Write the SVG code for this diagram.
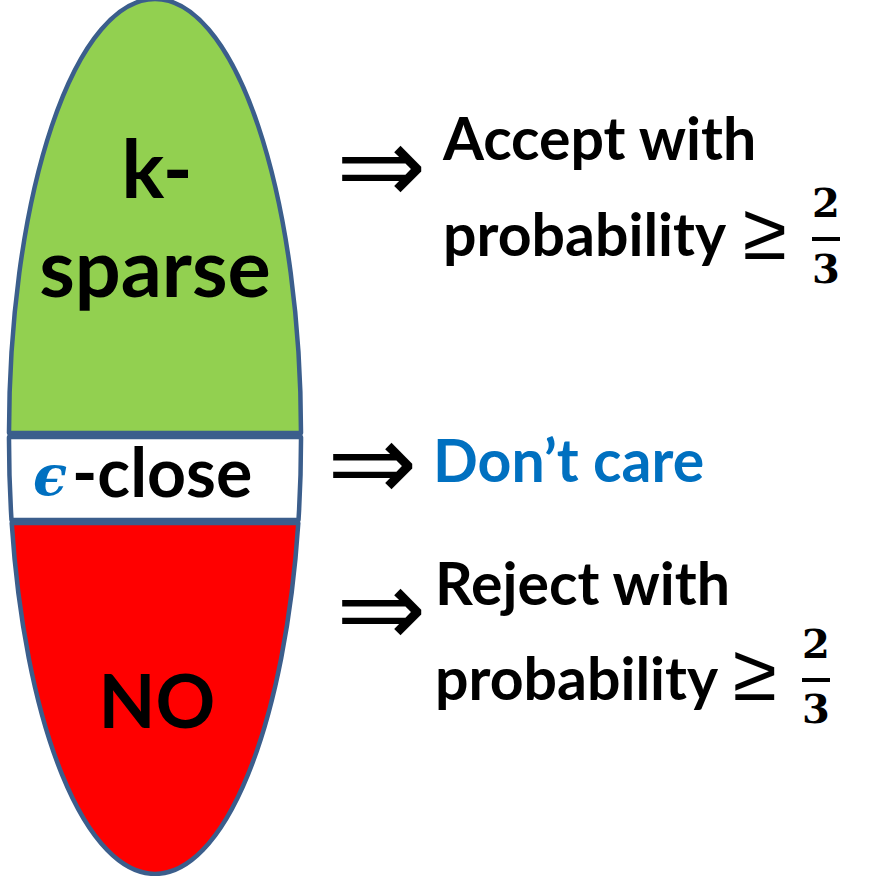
<svg xmlns="http://www.w3.org/2000/svg" width="883" height="876" viewBox="0 0 883 876">
<style>
.region{stroke:#3B5E8C;stroke-width:4.5;stroke-linejoin:round}
.lbl{font-family:Lato,"Open Sans",sans-serif;font-weight:bold;fill:#000}
.arr{font-family:"DejaVu Sans",sans-serif;fill:#000}
.geq{font-family:"DejaVu Sans",sans-serif;font-weight:200;fill:#000}
.num{font-family:"DejaVu Serif",serif;font-weight:bold;fill:#000}
.blue{fill:#0070C0}
</style>
<rect width="883" height="876" fill="#fff"/>
<g id="ksparse">
<path class="region" fill="#92D050" d="M 9,433 A 146 434 0 0 1 301,433 Z"/>
<text class="lbl" x="157" y="198" font-size="80" text-anchor="middle">k-</text>
<text class="lbl" x="155" y="297" font-size="81" text-anchor="middle">sparse</text>
</g>
<g id="eclose">
<path class="region" fill="#FFFFFF" d="M 9,437 L 301,437 A 146 434 0 0 1 298.5,520 L 11.5,520 A 146 434 0 0 1 9,437 Z"/>
<text x="33" y="495" font-family="DejaVu Serif,serif" font-style="italic" font-weight="bold" font-size="56" class="blue">ϵ</text>
<text class="lbl" x="72" y="497" font-size="68">-close</text>
</g>
<g id="no">
<path class="region" fill="#FF0000" d="M 298.3,523 A 146 434 0 0 1 11.7,523 Z"/>
<text class="lbl" x="157" y="728" font-size="74" text-anchor="middle">NO</text>
</g>
<g id="connectors">
<text class="arr" x="336" y="203" font-size="108">⇒</text>
<text class="arr" x="327" y="500" font-size="108">⇒</text>
<text class="arr" x="336" y="646" font-size="108">⇒</text>
</g>
<g id="accept">
<text class="lbl" x="443" y="160" font-size="59">Accept with</text>
<text class="lbl" x="443" y="256" font-size="59">probability</text>
<text class="geq" x="743" y="259" font-size="80">≥</text>
<text class="num" x="826" y="217" font-size="40" text-anchor="middle">2</text>
<rect x="812" y="237" width="28" height="4"/>
<text class="num" x="826" y="283" font-size="40" text-anchor="middle">3</text>
</g>
<g id="dontcare">
<text class="lbl blue" x="433" y="482" font-size="59">Don’t care</text>
</g>
<g id="reject">
<text class="lbl" x="435" y="605" font-size="59">Reject with</text>
<text class="lbl" x="435" y="700" font-size="59">probability</text>
<text class="geq" x="733" y="700" font-size="80">≥</text>
<text class="num" x="816" y="658" font-size="40" text-anchor="middle">2</text>
<rect x="802" y="678" width="28" height="4"/>
<text class="num" x="816" y="723" font-size="40" text-anchor="middle">3</text>
</g>
</svg>
